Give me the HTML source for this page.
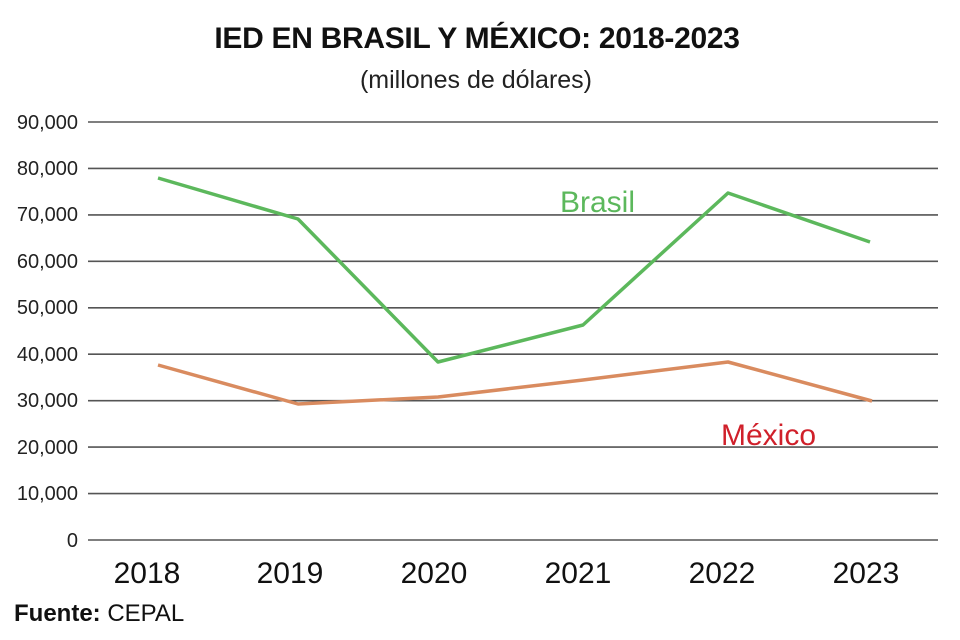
<!DOCTYPE html>
<html><head><meta charset="utf-8"><style>
html,body{margin:0;padding:0;background:#fff;}
svg{display:block;font-family:"Liberation Sans",sans-serif;}
</style></head><body>
<svg width="960" height="640" viewBox="0 0 960 640">
<rect width="960" height="640" fill="#fff"/>
<text x="477" y="48" text-anchor="middle" font-size="30" font-weight="bold" fill="#111" letter-spacing="-0.3">IED EN BRASIL Y MÉXICO: 2018-2023</text>
<text x="476" y="88" text-anchor="middle" font-size="25" fill="#222">(millones de dólares)</text>
<g stroke="#555" stroke-width="1.6">
<line x1="88" x2="938" y1="122" y2="122"/>
<line x1="88" x2="938" y1="168.4" y2="168.4"/>
<line x1="88" x2="938" y1="214.9" y2="214.9"/>
<line x1="88" x2="938" y1="261.3" y2="261.3"/>
<line x1="88" x2="938" y1="307.8" y2="307.8"/>
<line x1="88" x2="938" y1="354.2" y2="354.2"/>
<line x1="88" x2="938" y1="400.7" y2="400.7"/>
<line x1="88" x2="938" y1="447.1" y2="447.1"/>
<line x1="88" x2="938" y1="493.6" y2="493.6"/>
<line x1="88" x2="938" y1="540" y2="540"/>
</g>
<g font-size="20" fill="#222" text-anchor="end">
<text x="78" y="129">90,000</text>
<text x="78" y="175">80,000</text>
<text x="78" y="221">70,000</text>
<text x="78" y="268">60,000</text>
<text x="78" y="314">50,000</text>
<text x="78" y="361">40,000</text>
<text x="78" y="407">30,000</text>
<text x="78" y="454">20,000</text>
<text x="78" y="500">10,000</text>
<text x="78" y="547">0</text>
</g>
<g font-size="30" fill="#111" text-anchor="middle">
<text x="147" y="583">2018</text>
<text x="290" y="583">2019</text>
<text x="434" y="583">2020</text>
<text x="578" y="583">2021</text>
<text x="722" y="583">2022</text>
<text x="866" y="583">2023</text>
</g>
<polyline fill="none" stroke="#5cb85c" stroke-width="3.5" stroke-linejoin="round" points="158,178 298,219 438,362 583,325 728,193 870,242"/>
<polyline fill="none" stroke="#d98b5f" stroke-width="3.5" stroke-linejoin="round" points="158,365 298,404 438,397 583,380 728,362 872,401"/>
<text x="560" y="212" font-size="30" fill="#5cb85c">Brasil</text>
<text x="721" y="445" font-size="30" fill="#d0202a">México</text>
<text x="14" y="621" font-size="24" fill="#111"><tspan font-weight="bold">Fuente:</tspan> CEPAL</text>
</svg>
</body></html>
